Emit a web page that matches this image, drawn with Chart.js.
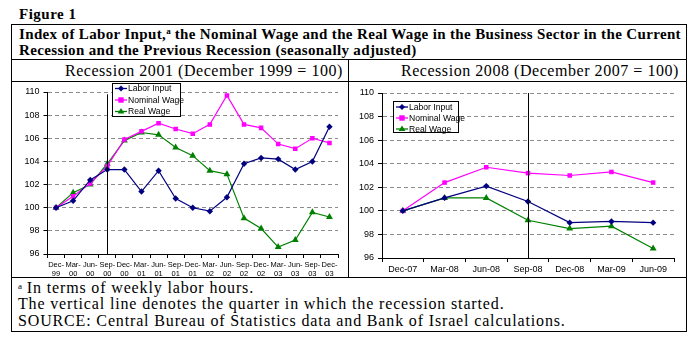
<!DOCTYPE html>
<html>
<head>
<meta charset="utf-8">
<script src="https://cdn.jsdelivr.net/npm/chart.js@4.4.1/dist/chart.umd.min.js"></script>
<style>
  html, body { margin: 0; padding: 0; background: #fff; }
  body { width: 697px; height: 341px; position: relative; overflow: hidden; font-family: "Liberation Serif", "Times New Roman", serif; color: #000; }
  .abs { position: absolute; }
  .hl { position: absolute; height: 1px; background: #000; }
  .vl { position: absolute; width: 1px; background: #000; }
  #fig { left: 19px; top: 6px; font-weight: bold; font-size: 15px; line-height: 16px; letter-spacing: 0.5px; }
  #title { left: 19px; top: 27px; width: 668px; font-weight: bold; font-size: 15px; line-height: 15.5px; letter-spacing: 0.35px; white-space: nowrap; }
  #title sup { font-size: 9px; vertical-align: 5px; line-height: 0; letter-spacing: 0; }
  .sub { top: 62px; font-size: 16px; line-height: 18px; letter-spacing: 0.55px; white-space: nowrap; text-align: right; }
  #notes { left: 18px; top: 280px; font-size: 16px; line-height: 16.3px; letter-spacing: 0.85px; white-space: nowrap; }
  #notes sup { font-size: 9px; vertical-align: 4px; line-height: 0; letter-spacing: 0; }
  canvas { position: absolute; }
</style>
</head>
<body>
<div id="fig" class="abs">Figure 1</div>

<!-- table frame -->
<div class="hl" style="left:11px; top:24px; width:676px;"></div>
<div class="hl" style="left:11px; top:59px; width:676px;"></div>
<div class="hl" style="left:11px; top:81px; width:676px;"></div>
<div class="hl" style="left:11px; top:277px; width:676px;"></div>
<div class="hl" style="left:11px; top:331px; width:676px;"></div>
<div class="vl" style="left:11px; top:24px; height:308px;"></div>
<div class="vl" style="left:686px; top:24px; height:308px;"></div>
<div class="vl" style="left:348px; top:59px; height:218px;"></div>

<div id="title" class="abs">Index of Labor Input,<sup>a</sup> the Nominal Wage and the Real Wage in the Business Sector in the Current<br>Recession and the Previous Recession (seasonally adjusted)</div>
<div class="abs sub" style="left:12px; width:331px;">Recession 2001 (December 1999 = 100)</div>
<div class="abs sub" style="left:349px; width:330px;">Recession 2008 (December 2007 = 100)</div>

<canvas id="c2001" width="336" height="195" style="left:12px; top:82px; width:336px; height:195px;"></canvas>
<canvas id="c2008" width="336" height="195" style="left:350px; top:82px; width:336px; height:195px;"></canvas>

<div id="notes" class="abs"><sup>a</sup> In terms of weekly labor hours.<br>The vertical line denotes the quarter in which the recession started.<br>SOURCE: Central Bureau of Statistics data and Bank of Israel calculations.</div>

<script>
// ---- Recession 2001 (December 1999 = 100) ----
const quarters2001 = [["Dec-","99"],["Mar-","00"],["Jun-","00"],["Sep-","00"],["Dec-","00"],["Mar-","01"],["Jun-","01"],["Sep-","01"],["Dec-","01"],["Mar-","02"],["Jun-","02"],["Sep-","02"],["Dec-","02"],["Mar-","03"],["Jun-","03"],["Sep-","03"],["Dec-","03"]];
const laborInput2001   = [100.0, 100.6, 102.4, 103.3, 103.3, 101.4, 103.2, 100.8, 100.0, 99.7, 100.9, 103.8, 104.3, 104.2, 103.3, 104.0, 107.0];
const nominalWage2001  = [100.0, 101.0, 102.1, 103.6, 105.9, 106.6, 107.3, 106.8, 106.4, 107.2, 109.7, 107.2, 106.9, 105.5, 105.1, 106.0, 105.6];
const realWage2001     = [100.0, 101.3, 102.0, 103.8, 105.8, 106.5, 106.3, 105.2, 104.5, 103.2, 102.9, 99.1, 98.2, 96.6, 97.2, 99.6, 99.2];
const recessionStart2001 = "Sep-00";

// ---- Recession 2008 (December 2007 = 100) ----
const quarters2008 = ["Dec-07","Mar-08","Jun-08","Sep-08","Dec-08","Mar-09","Jun-09"];
const laborInput2008  = [100.0, 101.1, 102.1, 100.8, 99.0, 99.1, 99.0];
const nominalWage2008 = [100.0, 102.4, 103.7, 103.2, 103.0, 103.3, 102.4];
const realWage2008    = [100.0, 101.1, 101.1, 99.2, 98.5, 98.7, 96.8];
const recessionStart2008 = "Sep-08";

const yTicks = { min: 96, max: 110, step: 2 };
const seriesNames = ["Labor Input", "Nominal Wage", "Real Wage"];

const SANS = "'Liberation Sans', Arial, sans-serif";

function seriesStyle(i) {
  return [
    { borderColor: "#000080", backgroundColor: "#000080", pointStyle: "rectRot", pointRadius: 3.2 },
    { borderColor: "#FF00FF", backgroundColor: "#FF00FF", pointStyle: "rect", pointRadius: 3.2 },
    { borderColor: "#008000", backgroundColor: "#008000", pointStyle: "triangle", pointRadius: 4 }
  ][i];
}

function drawMarker(ctx, style, x, y, r) {
  ctx.save();
  ctx.fillStyle = style.backgroundColor;
  ctx.beginPath();
  if (style.pointStyle === "rectRot") {
    ctx.moveTo(x, y - r); ctx.lineTo(x + r, y); ctx.lineTo(x, y + r); ctx.lineTo(x - r, y);
  } else if (style.pointStyle === "rect") {
    const s = r * 0.9;
    ctx.rect(x - s, y - s, 2 * s, 2 * s);
  } else {
    ctx.moveTo(x, y - r); ctx.lineTo(x + r, y + r * 0.6); ctx.lineTo(x - r, y + r * 0.6);
  }
  ctx.closePath();
  ctx.fill();
  ctx.restore();
}

// Boxed legend drawn inside the plot, plus the recession-start marker line
const overlayPlugin = {
  id: "overlay",
  afterDatasetsDraw(chart, args, opts) {
    const ctx = chart.ctx;
    const xs = chart.scales.x, ys = chart.scales.y;
    // recession start line
    const idx = chart.data.labels.findIndex(l => (Array.isArray(l) ? l.join("") : l) === opts.startLabel);
    if (idx >= 0) {
      const px = Math.round(xs.getPixelForValue(idx)) + 0.5;
      ctx.save();
      ctx.strokeStyle = "#000";
      ctx.lineWidth = 1;
      ctx.beginPath();
      ctx.moveTo(px, ys.getPixelForValue(opts.lineTop));
      ctx.lineTo(px, chart.chartArea.bottom);
      ctx.stroke();
      ctx.restore();
    }
    // legend
    const b = opts.box;
    ctx.save();
    ctx.fillStyle = "#fff";
    ctx.fillRect(b.x, b.y, b.w, b.h);
    ctx.strokeStyle = "#000";
    ctx.lineWidth = 1;
    ctx.strokeRect(b.x + 0.5, b.y + 0.5, b.w - 1, b.h - 1);
    ctx.font = "8.6px " + SANS;
    ctx.textBaseline = "middle";
    ctx.fillStyle = "#000";
    chart.data.datasets.forEach((ds, i) => {
      const y = b.y + b.rowTop + i * b.rowGap;
      ctx.strokeStyle = ds.borderColor;
      ctx.lineWidth = 1.3;
      ctx.beginPath();
      ctx.moveTo(b.x + 3, y);
      ctx.lineTo(b.x + 15, y);
      ctx.stroke();
      drawMarker(ctx, ds, b.x + 9, y, ds.pointStyle === "triangle" ? 3.4 : 3);
      ctx.fillStyle = "#000";
      ctx.fillText(ds.label, b.x + 16, y + 0.5);
    });
    ctx.restore();
  }
};

function makeChart(id, labels, series, cfg) {
  const datasets = series.map((data, i) => Object.assign({
    label: seriesNames[i],
    data: data,
    borderWidth: 1.2,
    pointBorderWidth: 0,
    tension: 0,
    fill: false
  }, seriesStyle(i)));

  return new Chart(document.getElementById(id), {
    type: "line",
    data: { labels: labels, datasets: datasets },
    options: {
      responsive: false,
      animation: false,
      devicePixelRatio: 1,
      layout: { padding: cfg.padding },
      plugins: {
        legend: { display: false },
        tooltip: { enabled: false },
        overlay: { startLabel: cfg.startLabel, box: cfg.box, lineTop: cfg.lineTop }
      },
      scales: {
        x: {
          offset: true,
          grid: { offset: true, drawOnChartArea: false, tickLength: 4, color: "#000", tickColor: "#000" },
          border: { color: "#000", width: 1 },
          ticks: { autoSkip: false, maxRotation: 0, minRotation: 0, padding: 2, color: "#000", font: { family: SANS, size: cfg.xFont, lineHeight: cfg.xLine } },
          afterFit: s => { s.height = cfg.xHeight; }
        },
        y: {
          min: yTicks.min, max: yTicks.max,
          grid: { color: "#8c8c8c", tickColor: "#000", tickLength: 4, tickBorderDash: [], lineWidth: 1 },
          border: { color: "#000", width: 1, dash: [4, 3] },
          ticks: { stepSize: yTicks.step, padding: 4, color: "#000", font: { family: SANS, size: 9 } },
          afterFit: s => { s.width = cfg.yWidth; }
        }
      }
    },
    plugins: [overlayPlugin]
  });
}

makeChart("c2001", quarters2001, [laborInput2001, nominalWage2001, realWage2001], {
  padding: { top: 10, right: 10, left: 0, bottom: 0 },
  yWidth: 35.5, xHeight: 23, xFont: 7.5, xLine: 1.25,
  startLabel: recessionStart2001, lineTop: 109.8,
  box: { x: 100, y: 1, w: 69, h: 34, rowTop: 5.5, rowGap: 11.5 }
});

makeChart("c2008", quarters2008, [laborInput2008, nominalWage2008, realWage2008], {
  padding: { top: 11, right: 12, left: 0, bottom: 0 },
  yWidth: 32, xHeight: 19, xFont: 9, xLine: 1.2,
  startLabel: recessionStart2008, lineTop: 110,
  box: { x: 43, y: 19, w: 66, h: 32, rowTop: 6, rowGap: 11 }
});
</script>
</body>
</html>
